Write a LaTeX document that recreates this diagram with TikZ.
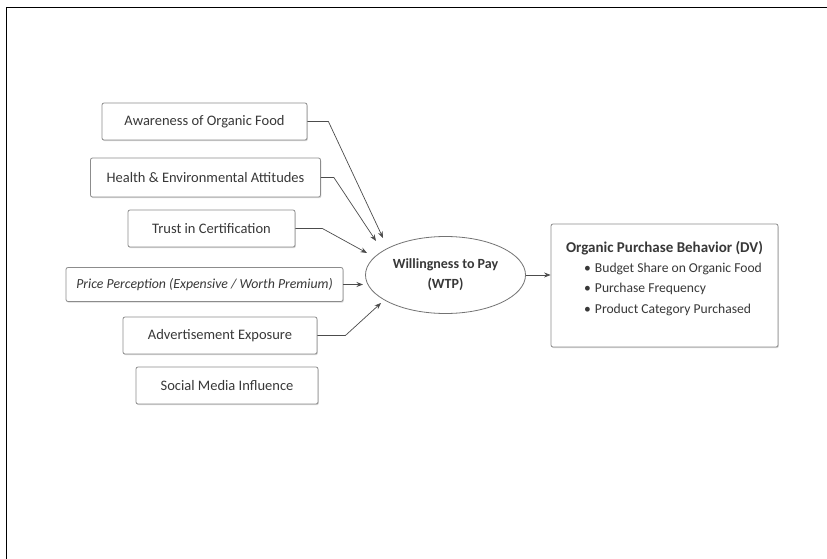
\documentclass[tikz,border=0pt]{standalone}
\usepackage{fontspec}
\setmainfont{Carlito}
\usetikzlibrary{arrows.meta,shadows,shapes.geometric}
\begin{document}
\begin{tikzpicture}[x=1pt,y=-1pt,
  box/.style={draw=black!45, line width=0.8pt, rounded corners=2pt, fill=white,
    drop shadow={opacity=0.3,shadow xshift=0.8pt,shadow yshift=-1.2pt},
    inner sep=0pt, font=\fontsize{14.5}{16}\selectfont, text=black!78},
  conn/.style={draw=black!70, line width=0.7pt, -{Stealth[length=6.5pt,width=5pt]}},
  txt/.style={inner sep=0pt, text=black!78, font=\fontsize{13.6}{15}\selectfont}]
\useasboundingbox (0,0) rectangle (827,559);
\fill[white] (0,0) rectangle (827,559);
\draw[line width=1.6pt] (6.5,559) -- (6.5,7.5) -- (827,7.5);

% left factor boxes
\node[box, minimum width=205pt, minimum height=37pt] (aw) at (204.5,121.5) {Awareness of Organic Food};
\node[box, minimum width=230pt, minimum height=39pt] (he) at (205.5,177.5) {Health \& Environmental Attitudes};
\node[box, minimum width=167pt, minimum height=37pt] (tr) at (211.5,228.5) {Trust in Certification};
\node[box, minimum width=277pt, minimum height=34pt, font=\itshape\fontsize{13.8}{15}\selectfont] (pr) at (204.5,284.5) {Price Perception (Expensive / Worth Premium)};
\node[box, minimum width=194pt, minimum height=37pt] (ad) at (220,335.5) {Advertisement Exposure};
\node[box, minimum width=182pt, minimum height=37pt] (so) at (227,385.5) {Social Media Influence};

% mediator
\node[ellipse, draw=black!55, line width=0.8pt, fill=white, minimum width=160pt, minimum height=77pt,
      inner sep=0pt, align=center, text=black!78, font=\bfseries\fontsize{14}{20}\selectfont] (wtp) at (445.5,275)
      {Willingness to Pay\\(WTP)};

% outcome box
\node[box, minimum width=227pt, minimum height=123pt] (dv) at (664.5,285.5) {};
\node[txt, font=\bfseries\fontsize{15}{16}\selectfont] (dvt) at (664.5,248) {Organic Purchase Behavior (DV)};
\node[txt, anchor=west] (b1) at (584,269) {\textbullet\hspace{4pt}Budget Share on Organic Food};
\node[txt, anchor=west] (b2) at (584,289) {\textbullet\hspace{4pt}Purchase Frequency};
\node[txt, anchor=west] (b3) at (584,310) {\textbullet\hspace{4pt}Product Category Purchased};

% arrow tips near the ellipse
\coordinate (t1) at (383,238);
\coordinate (t2) at (376,241);
\coordinate (t3) at (367,253);
\coordinate (t4) at (363,284.5);
\coordinate (t5) at (381,303);

\draw[conn] (aw.east) -- ++(21,0) -- (t1);
\draw[conn] (he.east) -- ++(13,0) -- (t2);
\draw[conn] (tr.east) -- ++(27,0) -- (t3);
\draw[conn] (pr.east) -- (t4);
\draw[conn] (ad.east) -- ++(28,0) -- (t5);
\draw[conn] (wtp.east) -- (dv.west |- wtp.east);
\end{tikzpicture}
\end{document}
